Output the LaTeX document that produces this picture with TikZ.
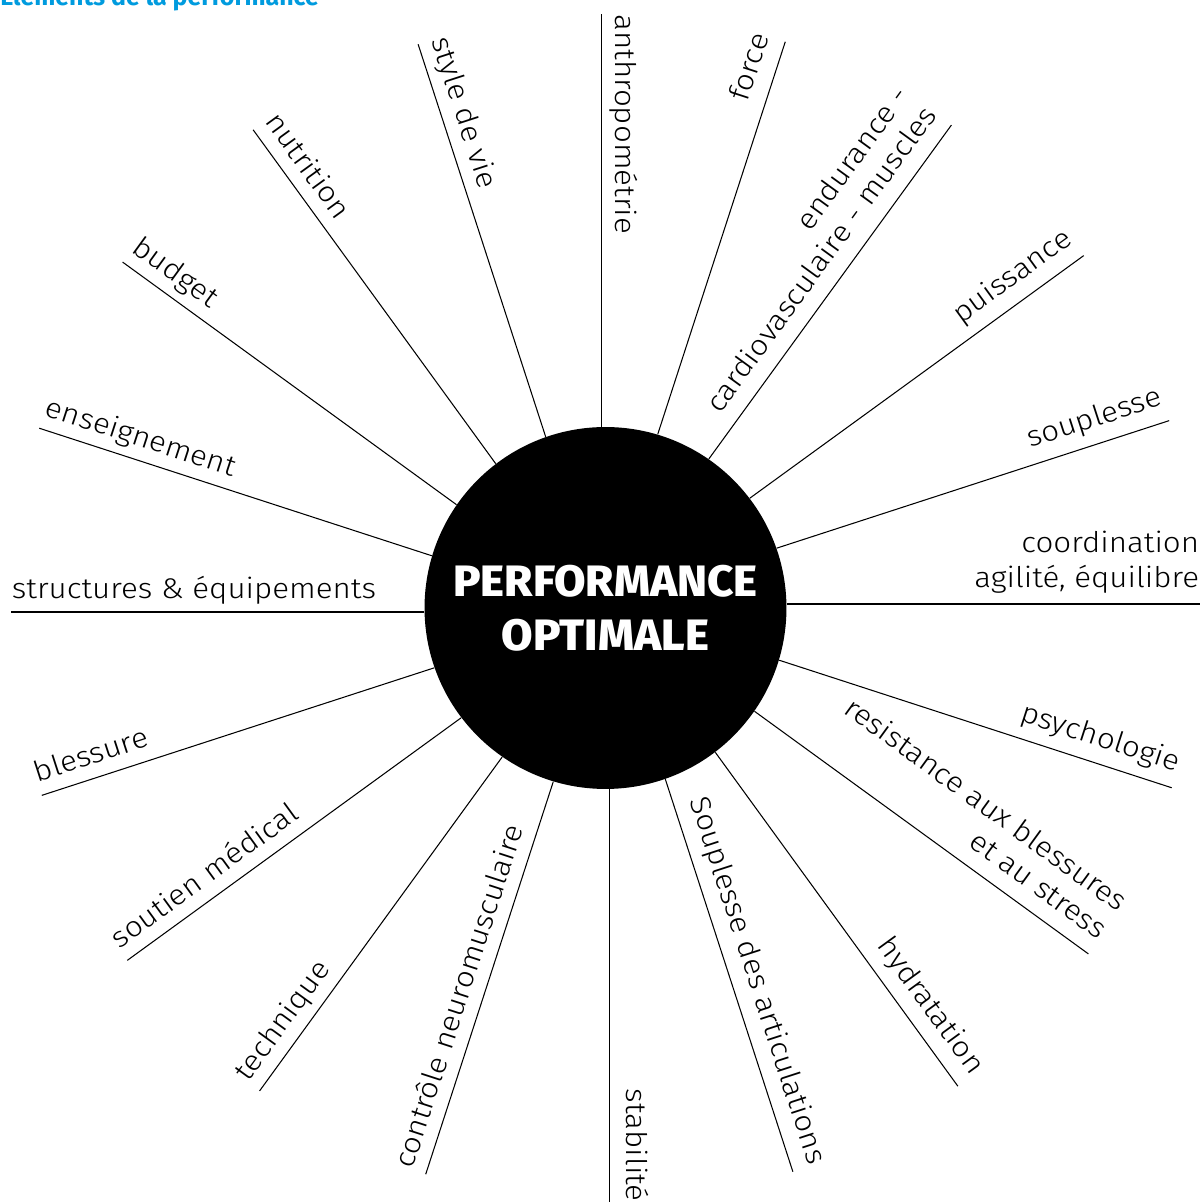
\documentclass[tikz,border=0pt]{standalone}
\usepackage{fontspec}
\IfFontExistsTF{Fira Sans Book}
  {\newfontfamily\lblfont{Fira Sans Book}[FakeStretch=1.1]}
  {\newfontfamily\lblfont{Fira Sans Light}[FakeStretch=1.1]}
\IfFontExistsTF{Fira Sans ExtraBold}
  {\newfontfamily\hubfont{Fira Sans ExtraBold}[FakeStretch=1.04]}
  {\newfontfamily\hubfont{Fira Sans Bold}[FakeStretch=1.04]}
\newfontfamily\titrefont{Fira Sans Bold}
\definecolor{skyblue}{RGB}{0,155,222}

\tikzset{
  titre/.style={font=\titrefont\fontsize{14.2}{16}\selectfont,text=skyblue,inner sep=0pt},
  hub/.style={circle,fill=black,inner sep=0pt,minimum size=7.24cm,text=white,
    font=\hubfont\fontsize{25}{30.7}\selectfont,align=center},
  spoke/.style={line width=0.6pt},
  lbl/.style={font=\lblfont\fontsize{16.2}{19.5}\selectfont,inner sep=0pt,text depth=0.25em}
}

\begin{document}
\begin{tikzpicture}[x=0.02cm,y=0.02cm]
  \useasboundingbox (-605.5,-594) rectangle (597.5,608);
  \node[titre,anchor=base west] (titre) at (-605.5,602) {Éléments de la performance};
  \node[hub] (perf) at (0,0) {PERFORMANCE\\OPTIMALE};
  % spokes, slightly off the radius
  \foreach \a in {0,18,...,342}{
    \coordinate (end\a) at ([shift={(\a+90:4)}]\a:594);
    \draw[spoke] ([shift={(\a+90:4)}]perf.\a) -- (end\a);
  }
  % right half: text reads outwards
  \foreach \a/\txt in {0/{coordination\\agilité, équilibre},18/souplesse,36/puissance,
      54/{endurance -\\cardiovasculaire - muscles},72/force,270/stabilité,
      288/Souplesse des articulations,306/hydratation,
      324/{resistance aux blessures\\et au stress},342/psychologie}
    \node[lbl,align=right,rotate=\a,anchor=south east] (lbl\a)
      at ([shift={(\a+90:12)}]end\a) {\txt};
  % left half: text reads towards the hub
  \foreach \a/\txt in {90/anthropométrie,108/style de vie,126/nutrition,144/budget,
      162/enseignement,180/structures \& équipements,198/blessure,
      216/soutien médical,234/technique,252/contrôle neuromusculaire}
    \node[lbl,rotate=\a+180,anchor=south west] (lbl\a)
      at ([shift={(\a-90:9)}]end\a) {\txt};
\end{tikzpicture}
\end{document}
